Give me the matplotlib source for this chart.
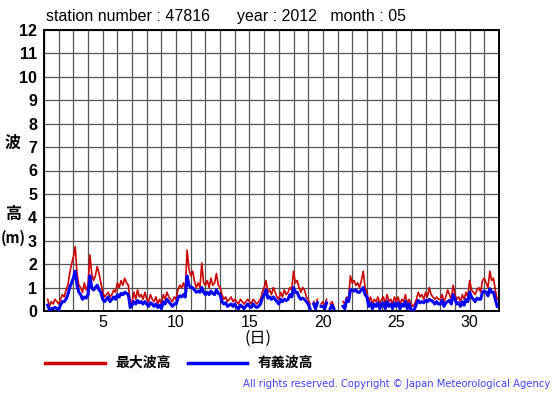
import numpy as np
import matplotlib
matplotlib.use("Agg")
import matplotlib.pyplot as plt

# 3-hourly readings, 8 per day, May 1 - May 31 (nan = missing)
nan = np.nan
max_wave = [
    nan, nan, 0.5, 0.2, 0.4, 0.3, 0.5, 0.4,
    0.3, 0.5, 0.7, 0.6, 0.9, 1.1, 1.6, 2.0,
    2.3, 2.75, 1.6, 1.1, 1.0, 0.8, 1.2, 0.9,
    1.1, 2.4, 1.6, 1.3, 1.5, 1.9, 1.6, 1.2,
    0.8, 0.6, 0.7, 0.8, 0.6, 0.7, 0.9, 0.8,
    1.2, 1.0, 1.3, 1.1, 1.4, 1.2, 1.1, 0.3,
    0.4, 0.8, 0.5, 0.9, 0.6, 0.7, 0.5, 0.8,
    0.5, 0.4, 0.7, 0.5, 0.4, 0.6, 0.3, 0.5,
    0.3, 0.7, 0.5, 0.8, 0.6, 0.5, 0.4, 0.6,
    0.5, 0.9, 1.1, 1.0, 1.2, 0.9, 2.6, 1.8,
    1.5, 1.7, 1.3, 1.0, 1.2, 1.0, 2.05, 1.2,
    1.1, 1.3, 1.0, 1.4, 1.1, 1.2, 1.6, 1.1,
    1.0, 0.7, 0.5, 0.6, 0.4, 0.5, 0.6, 0.4,
    0.5, 0.4, 0.3, 0.5, 0.4, 0.3, 0.4, 0.5,
    0.4, 0.3, 0.5, 0.4, 0.3, 0.4, 0.5, 0.8,
    1.0, 1.3, 0.8, 0.9, 0.7, 1.0, 0.8, 0.6,
    0.5, 0.8, 0.6, 0.9, 0.7, 0.8, 1.0, 0.9,
    1.7, 1.2, 1.3, 1.0, 0.8, 1.0, 0.9, 0.6,
    0.5, 0.3, nan, 0.4, 0.2, 0.5, nan, 0.3,
    0.4, 0.2, 0.5, nan, 0.3, 0.4, 0.2, nan,
    nan, nan, nan, 0.4, 0.3, 0.6, 0.5, 1.5,
    1.2, 1.3, 1.1, 1.2, 1.0, 1.3, 1.7, 1.0,
    0.8, 0.4, 0.6, 0.3, 0.5, 0.4, 0.6, 0.3,
    0.5, 0.6, 0.3, 0.7, 0.4, 0.5, 0.3, 0.6,
    0.4, 0.6, 0.3, 0.5, 0.4, 0.7, 0.3, 0.5,
    0.3, 0.2, 0.3, 0.5, 0.8, 0.6, 0.7, 0.5,
    0.8, 0.6, 1.0, 0.7, 0.6, 0.5, 0.6, 0.5,
    0.5, 0.7, 0.4, 0.6, 0.9, 0.7, 0.5, 1.1,
    0.7, 0.5, 0.6, 0.4, 0.7, 0.5, 0.8, 0.6,
    1.3, 0.9, 0.8, 0.7, 0.9, 1.0, 0.8, 1.3,
    1.4, 1.2, 1.0, 1.7, 1.3, 1.4, 0.9, 0.5,
]
sig_wave = [
    nan, nan, 0.25, 0.05, 0.1, 0.1, 0.15, 0.1,
    0.05, 0.25, 0.4, 0.4, 0.5, 0.7, 1.0, 1.2,
    1.4, 1.7, 1.1, 0.8, 0.7, 0.5, 0.6, 0.55,
    0.7, 1.5, 1.0, 0.9, 1.0, 1.1, 0.9, 0.8,
    0.5, 0.4, 0.5, 0.6, 0.4, 0.5, 0.6, 0.5,
    0.7, 0.6, 0.75, 0.7, 0.8, 0.75, 0.7, 0.15,
    0.25, 0.4, 0.3, 0.45, 0.35, 0.4, 0.3, 0.4,
    0.3, 0.2, 0.35, 0.3, 0.2, 0.3, 0.15, 0.25,
    0.1, 0.4, 0.3, 0.5, 0.4, 0.3, 0.2, 0.3,
    0.3, 0.55, 0.65, 0.6, 0.7, 0.6, 1.5, 1.1,
    1.0, 1.0, 0.9, 0.8, 0.85, 0.8, 1.0, 0.8,
    0.7, 0.8, 0.7, 0.85, 0.75, 0.7, 0.9, 0.75,
    0.7, 0.4, 0.3, 0.35, 0.2, 0.25, 0.3, 0.2,
    0.3, 0.15, 0.1, 0.25, 0.2, 0.1, 0.2, 0.3,
    0.2, 0.15, 0.3, 0.2, 0.15, 0.2, 0.3, 0.55,
    0.7, 0.9, 0.55, 0.6, 0.5, 0.6, 0.5, 0.4,
    0.3, 0.5, 0.4, 0.5, 0.45, 0.5, 0.7, 0.6,
    1.0, 0.8, 0.8, 0.6, 0.5, 0.55, 0.5, 0.4,
    0.3, 0.1, nan, 0.3, 0.1, 0.35, nan, 0.2,
    0.2, 0.1, 0.35, nan, 0.1, 0.25, 0.1, nan,
    nan, nan, nan, 0.2, 0.1, 0.5, 0.4, 0.9,
    0.9, 0.85, 0.9, 0.8, 0.8, 0.9, 1.0, 0.7,
    0.6, 0.2, 0.35, 0.1, 0.3, 0.2, 0.35, 0.1,
    0.3, 0.35, 0.1, 0.4, 0.2, 0.3, 0.1, 0.35,
    0.2, 0.35, 0.1, 0.3, 0.2, 0.4, 0.1, 0.3,
    0.05, 0.0, 0.1, 0.3, 0.45, 0.35, 0.4, 0.35,
    0.45, 0.4, 0.5, 0.45, 0.4, 0.3, 0.4, 0.3,
    0.3, 0.45, 0.2, 0.35, 0.4, 0.45, 0.3, 0.7,
    0.5, 0.3, 0.35, 0.2, 0.4, 0.25, 0.5, 0.4,
    0.8, 0.6, 0.5, 0.4, 0.55, 0.5, 0.5, 0.8,
    0.85, 0.8, 0.65, 0.95, 0.8, 0.8, 0.5, 0.2,
]
x_ticks = [5, 10, 15, 20, 25, 30]
y_ticks = list(range(0, 13))
title = "station number : 47816      year : 2012   month : 05"
legend_labels = ["最大波高", "有義波高"]

days = 1 + np.arange(len(max_wave)) / 8.0

plt.rcParams['font.family'] = ['Liberation Sans', 'DejaVu Sans']
cjk = ['Noto Sans CJK JP', 'DejaVu Sans']

fig = plt.figure(figsize=(5.55, 3.95), dpi=100)
ax = fig.add_axes([44 / 555, 1 - 311 / 395, 455 / 555, 281 / 395])

ax.plot(days, max_wave, color="#cc0000", lw=1.2, zorder=3)
ax.plot(days, sig_wave, color="#0000ff", lw=2.2, zorder=4)

ax.set_xlim(1, 32)
ax.set_ylim(0, 12)
ax.set_xticks(range(1, 33), minor=True)
ax.set_xticks(x_ticks)
ax.set_yticks(y_ticks)
ax.grid(which="both", color="#555555", lw=0.9)
ax.tick_params(which="both", length=0)
ax.tick_params(axis="x", labelsize=11.5, pad=3)
ax.tick_params(axis="y", labelsize=11.5, pad=5)
for lab in ax.get_yticklabels():
    lab.set_fontweight("bold")
for s in ax.spines.values():
    s.set_linewidth(1.4)

fig.text(46 / 555, 1 - 16 / 395, title, fontsize=11.5, va="center", ha="left")

# y axis label
fig.text(13 / 555, 1 - 143 / 395, "波", family=cjk, fontsize=11.5, fontweight="bold", ha="center", va="center")
fig.text(13 / 555, 1 - 214 / 395, "高", family=cjk, fontsize=11.5, fontweight="bold", ha="center", va="center")
fig.text(13 / 555, 1 - 238 / 395, "(m)", family=cjk, fontsize=10.5, fontweight="bold", ha="center", va="center")

# x axis label
fig.text(258 / 555, 1 - 338 / 395, "(日)", family=cjk, fontsize=11.5, ha="center", va="center")

# legend
fig.add_artist(plt.Line2D([45 / 555, 105 / 555], [1 - 363 / 395] * 2, color="#cc0000", lw=2.5))
fig.text(115 / 555, 1 - 363 / 395, legend_labels[0], family=cjk, fontsize=10, fontweight="bold", va="center")
fig.add_artist(plt.Line2D([188 / 555, 247 / 555], [1 - 363 / 395] * 2, color="#0000ff", lw=2.5))
fig.text(258 / 555, 1 - 363 / 395, legend_labels[1], family=cjk, fontsize=10, fontweight="bold", va="center")

fig.text(550 / 555, 1 - 384 / 395, "All rights reserved. Copyright © Japan Meteorological Agency",
         family="DejaVu Sans", color="#4444ff", fontsize=7.2, ha="right", va="center")

fig.savefig("out.png", dpi=100)
